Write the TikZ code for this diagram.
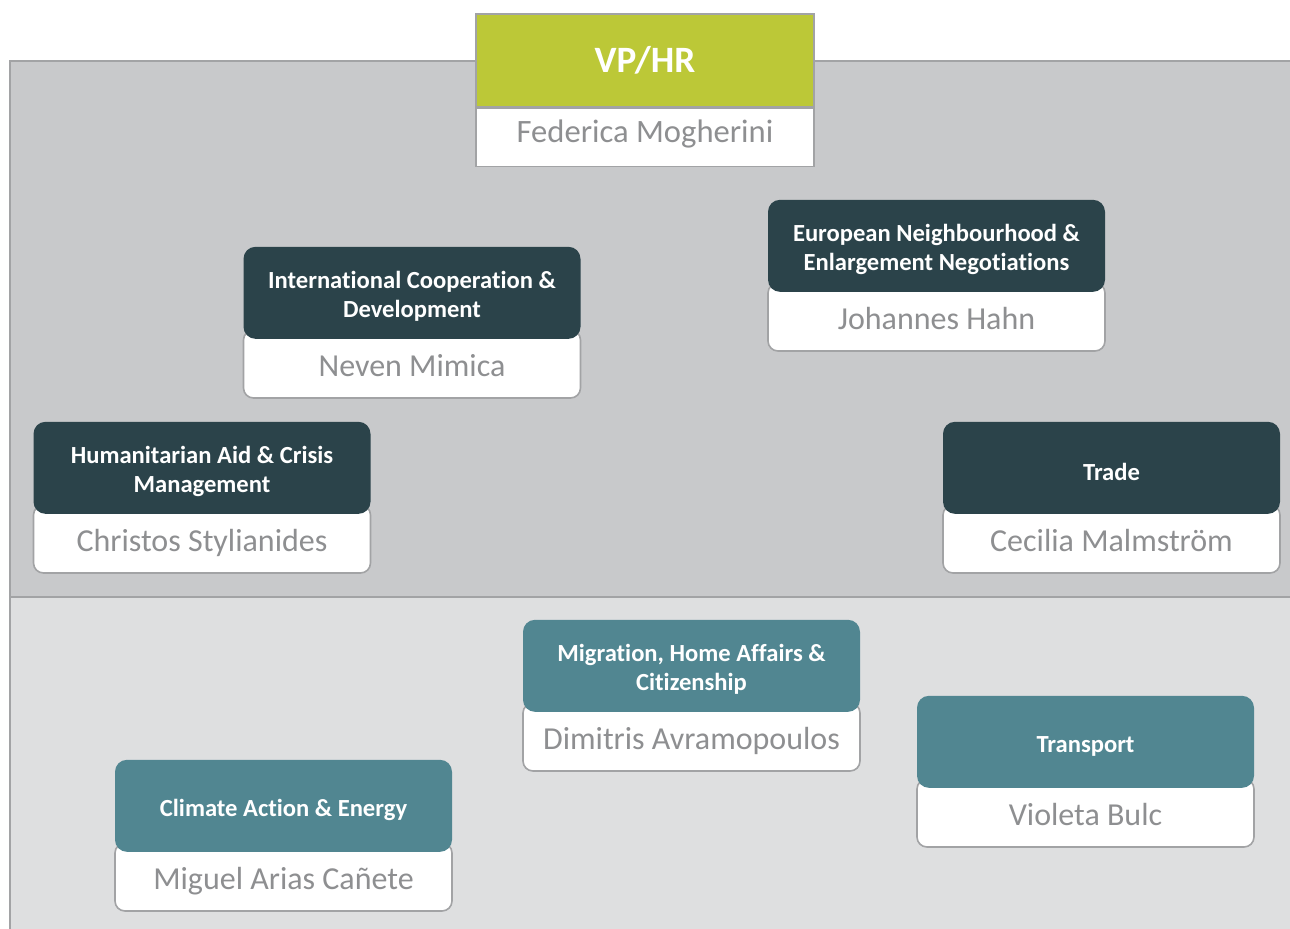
\documentclass[tikz,border=0pt]{standalone}
\usepackage{fontspec}
\setmainfont{Carlito}[Ligatures=NoCommon]
\usetikzlibrary{positioning}
\definecolor{paneldark}{HTML}{C8C9CB}
\definecolor{panellight}{HTML}{DEDFE0}
\definecolor{framegray}{HTML}{A2A3A5}
\definecolor{namegray}{HTML}{8E8F91}
\definecolor{vpgreen}{HTML}{BCC837}
\definecolor{headdark}{HTML}{2B434A}
\definecolor{headteal}{HTML}{518691}

\begin{document}
\begin{tikzpicture}[x=.5pt,y=-.5pt,
	namebox/.style={draw=framegray,line width=.8pt,fill=white,rounded corners=5pt,
		minimum width=168.5pt,minimum height=34pt,inner sep=0pt,text=namegray,
		text height=15pt,text depth=3pt,font=\fontsize{16}{18}\selectfont},
	head/.style={fill=headdark,rounded corners=6pt,minimum width=168.5pt,minimum height=46pt,
		inner sep=0pt,text=white,align=center,font=\bfseries\fontsize{12.3}{14.5}\selectfont,
		text height=27pt},
	headlt/.style={head,fill=headteal},
	oneline/.style={text height=13pt},
	vpbox/.style={draw=framegray,line width=.8pt,fill=vpgreen,minimum width=169pt,minimum height=46.5pt,
		inner sep=0pt,text=white,font=\bfseries\fontsize{18.6}{20}\selectfont},
	vpname/.style={draw=framegray,line width=.8pt,fill=white,minimum width=169pt,minimum height=29pt,
		inner sep=0pt,text=namegray,text height=8pt,text depth=3pt,font=\fontsize{16.3}{18}\selectfont}]
	\useasboundingbox (0,0) rectangle (1290,928);
	\clip (0,0) rectangle (1290,928);
	% panels
	\filldraw[fill=paneldark,draw=framegray,line width=.8pt] (10,61) rectangle (1300,597);
	\filldraw[fill=panellight,draw=framegray,line width=.8pt] (10,597) rectangle (1300,940);
	% VP/HR
	\node[vpbox] (vp) at (645,60.5) {VP/HR};
	\node[vpname,below=0pt of vp] (mogherini) {Federica Mogherini};
	% upper group
	\node[namebox] (mimica) at (412,364) {Neven Mimica};
	\node[head,above=-5pt of mimica.north] (devco) {International Cooperation \&\\Development};
	\node[namebox] (hahn) at (936.5,317) {Johannes Hahn};
	\node[head,above=-5pt of hahn.north] (near) {European Neighbourhood \&\\Enlargement Negotiations};
	\node[namebox] (stylianides) at (202,539) {Christos Stylianides};
	\node[head,above=-5pt of stylianides.north] (echo) {Humanitarian Aid \& Crisis\\Management};
	\node[namebox] (malmstrom) at (1111.5,539) {Cecilia Malmström};
	\node[head,oneline,above=-5pt of malmstrom.north] (trade) {Trade};
	% lower group
	\node[namebox] (avramopoulos) at (691.5,737) {Dimitris Avramopoulos};
	\node[headlt,above=-5pt of avramopoulos.north] (home) {Migration, Home Affairs \&\\Citizenship};
	\node[namebox] (bulc) at (1085.5,813) {Violeta Bulc};
	\node[headlt,oneline,above=-5pt of bulc.north] (move) {Transport};
	\node[namebox] (canete) at (283.5,877) {Miguel Arias Cañete};
	\node[headlt,oneline,above=-5pt of canete.north] (clima) {Climate Action \& Energy};
\end{tikzpicture}
\end{document}
